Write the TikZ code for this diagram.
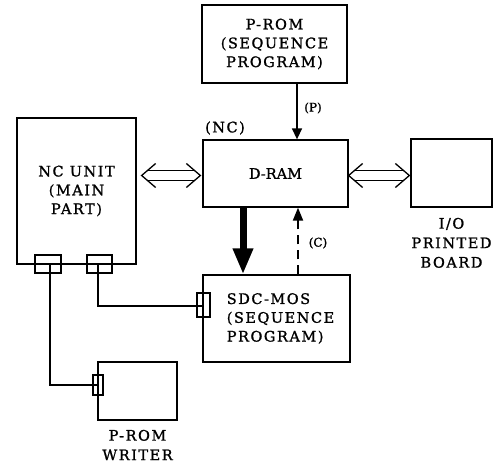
\documentclass[tikz,border=0pt]{standalone}
\usepackage{fontspec}
\setmainfont{DejaVu Serif}[LetterSpace=10.5,FakeBold=1.2]
\newfontfamily\plainfont{DejaVu Serif}[FakeBold=1.2]
\usetikzlibrary{arrows.meta,calc}
\newcommand\dblarrow[2]{%
  \draw[boxline] ($(#1)+(14,-12)$) -- (#1) -- ($(#1)+(14,12)$);
  \draw[boxline] ($(#2)+(-14,-12)$) -- (#2) -- ($(#2)+(-14,12)$);
  \draw[boxline] ($(#1)+(6,-5)$) -- ($(#2)+(-6,-5)$);
  \draw[boxline] ($(#1)+(6,5)$) -- ($(#2)+(-6,5)$);
}
\begin{document}
\begin{tikzpicture}[x=1pt,y=-1pt,
  boxline/.style={line width=1.3pt},
  box/.style={draw,line width=1.3pt,inner sep=0pt,align=center,
    font=\fontsize{14.5}{18.8}\selectfont},
  conn/.style={draw,line width=1.3pt,inner sep=0pt},
  lbl/.style={inner sep=0pt,align=center,font=\fontsize{14.5}{19.5}\selectfont},
  small/.style={inner sep=0pt,font=\plainfont\fontsize{12}{14}\selectfont},
  thinarr/.style={line width=1.4pt,-{Triangle[length=11pt,width=10pt]}},
  thickarr/.style={line width=7pt,-{Triangle[length=26pt,width=19pt]}},
  dasharr/.style={line width=2pt,dash pattern=on 9pt off 6pt,-{Triangle[length=13pt,width=10pt]}}]
\useasboundingbox (0,0) rectangle (499,463);

% main boxes
\node[box,minimum width=145pt,minimum height=78pt] (prom) at (274.5,44) {P-ROM\\(SEQUENCE\\PROGRAM)};
\node[box,minimum width=145pt,minimum height=67pt,font=\plainfont\fontsize{14.5}{18}\selectfont] (dram) at (275.5,173.5) {D-RAM};
\node[box,minimum width=81pt,minimum height=68pt] (io) at (451.5,173) {};
\node[box,minimum width=119pt,minimum height=146pt] (nc) at (76.5,191) {NC UNIT\\(MAIN\\PART)};
\node[box,minimum width=147pt,minimum height=87pt] (sdc) at (276.5,318.5) {};
\node[lbl,align=left,font=\fontsize{14.5}{18.8}\selectfont] (sdctxt) at ([xshift=4pt]sdc.center) {SDC-MOS\\(SEQUENCE\\PROGRAM)};
\node[box,minimum width=79pt,minimum height=58pt] (wr) at (137.5,391) {};

% labels
\node[lbl,anchor=north] (iolbl) at ([yshift=-10pt]io.south) {I/O\\PRINTED\\BOARD};
\node[lbl,anchor=north] (wrlbl) at ([yshift=-9pt]wr.south) {P-ROM\\WRITER};
\node[lbl] (nclbl) at (225,128) {(NC)};

% connector blocks
\node[conn,minimum width=26pt,minimum height=18pt] (c1) at (48,264) {};
\node[conn,minimum width=25pt,minimum height=18pt] (c2) at (99.5,264) {};
\node[conn,minimum width=10pt,minimum height=20pt] (wc) at (98,385) {};
\node[conn,minimum width=13pt,minimum height=24pt] (sc) at (203.5,305) {};
\coordinate (k1) at (50,385);
\coordinate (k2) at (98,306);
\draw[boxline] ([xshift=2pt]c1.center) -- (k1) -- (wc.center);
\draw[boxline] ([xshift=-1.5pt]c2.center) -- (k2) -- (k2 -| sc.center);

% arrows
\coordinate (px) at (297,0);
\coordinate (tx) at (243,0);
\coordinate (cx) at (298,0);
\draw[thinarr] (prom.south -| px) -- (dram.north -| px);
\draw[thickarr] (dram.south -| tx) -- (sdc.north -| tx);
\draw[dasharr] (sdc.north -| cx) -- (dram.south -| cx);
\node[small] (plbl) at (313,108) {(P)};
\node[small] (clbl) at (318,243) {(C)};

% double arrows
\coordinate (a1) at ($(nc.east |- dram.west)+(5,2)$);
\coordinate (a2) at ($(dram.west)+(-2,2)$);
\coordinate (b1) at ($(dram.east)+(0,2)$);
\coordinate (b2) at ($(io.west |- dram.east)+(-1,2)$);
\dblarrow{a1}{a2}
\dblarrow{b1}{b2}
\end{tikzpicture}
\end{document}
